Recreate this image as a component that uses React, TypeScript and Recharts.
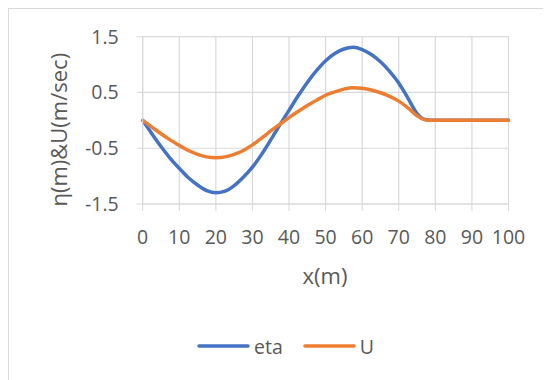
import { LineChart, Line, XAxis, YAxis, CartesianGrid } from "recharts";

// x positions (m)
const xValues = [
  0, 2.5, 5, 7.5, 10, 12.5, 15, 17.5, 20, 22.5, 25, 27.5, 30, 32.5, 35, 37.5, 40, 42.5, 45, 47.5, 50,
  52.5, 55, 57.5, 60, 62.5, 65, 67.5, 70, 72.5, 75, 77.5, 80, 85, 90, 95, 100,
];

// surface elevation eta (m)
const etaValues = [
  0, -0.24, -0.47, -0.68, -0.86, -1.03, -1.16, -1.26, -1.3, -1.27, -1.17, -1.02, -0.84, -0.61, -0.35, -0.08,
  0.18, 0.44, 0.68, 0.89, 1.07, 1.2, 1.28, 1.31, 1.27, 1.18, 1.05, 0.88, 0.67, 0.4, 0.12, 0.01, 0, 0, 0, 0, 0,
];

// velocity U (m/sec)
const uValues = [
  0, -0.12, -0.24, -0.35, -0.45, -0.54, -0.61, -0.655, -0.67, -0.655, -0.61, -0.54, -0.44, -0.32, -0.19, -0.07,
  0.05, 0.16, 0.265, 0.36, 0.45, 0.51, 0.56, 0.585, 0.575, 0.545, 0.495, 0.43, 0.345, 0.225, 0.08, 0.005, 0, 0, 0, 0, 0,
];

const xTicks = [0, 10, 20, 30, 40, 50, 60, 70, 80, 90, 100];
const yTicks = [-1.5, -0.5, 0.5, 1.5];

const series = [
  { key: "eta", name: "eta", color: "#4472C4" },
  { key: "U", name: "U", color: "#ED7D31" },
];

const data = xValues.map((x, i) => ({ x, eta: etaValues[i], U: uValues[i] }));

const FONT = "'Open Sans', sans-serif";
const TEXT = "#595959";
const GRID = "#d9d9d9";

export default function App() {
  return (
    <div
      style={{
        position: "relative",
        width: 560,
        height: 390,
        borderTop: `1px solid ${GRID}`,
        borderLeft: `1px solid ${GRID}`,
        fontFamily: FONT,
        background: "#fff",
      }}
    >
      <LineChart
        width={542}
        height={371}
        data={data}
        margin={{ top: 27.7, right: 42.5, bottom: 116, left: 73.7 }}
      >
        <CartesianGrid stroke={GRID} strokeWidth={1.2} />
        <XAxis
          dataKey="x"
          type="number"
          domain={[0, 100]}
          ticks={xTicks}
          height={60}
          tickSize={7}
          tickMargin={19}
          stroke={GRID}
          tick={{ fill: TEXT, fontSize: 19.5, fontFamily: FONT }}
          label={() => (
            <text x={316} y={266} textAnchor="middle" dominantBaseline="central" fill={TEXT} fontSize={22} fontFamily={FONT}>
              x(m)
            </text>
          )}
        />
        <YAxis
          type="number"
          domain={[-1.5, 1.5]}
          ticks={yTicks}
          width={60}
          tickSize={6}
          tickMargin={18}
          stroke={GRID}
          tick={{ fill: TEXT, fontSize: 19.5, fontFamily: FONT }}
          label={() => (
            <text
              x={49}
              y={120.7}
              transform="rotate(-90, 49, 120.7)"
              textAnchor="middle"
              dominantBaseline="central"
              fill={TEXT}
              fontSize={22}
              fontFamily={FONT}
            >
              η(m)&amp;U(m/sec)
            </text>
          )}
        />
        {series.map((s) => (
          <Line
            key={s.key}
            type="monotone"
            dataKey={s.key}
            name={s.name}
            stroke={s.color}
            strokeWidth={3.5}
            strokeLinecap="round"
            dot={false}
            isAnimationActive={false}
          />
        ))}
      </LineChart>
      <div
        style={{
          position: "absolute",
          top: 324,
          left: 188,
          display: "flex",
          alignItems: "center",
          height: 26,
          fontSize: 19.5,
          color: TEXT,
        }}
      >
        {series.map((s, i) => (
          <div key={s.key} style={{ display: "flex", alignItems: "center", marginLeft: i === 0 ? 0 : 20 }}>
            <svg width={53} height={8} style={{ display: "block" }}>
              <line x1={2} y1={4} x2={51} y2={4} stroke={s.color} strokeWidth={3.5} strokeLinecap="round" />
            </svg>
            <span style={{ marginLeft: 4 }}>{s.name}</span>
          </div>
        ))}
      </div>
    </div>
  );
}
